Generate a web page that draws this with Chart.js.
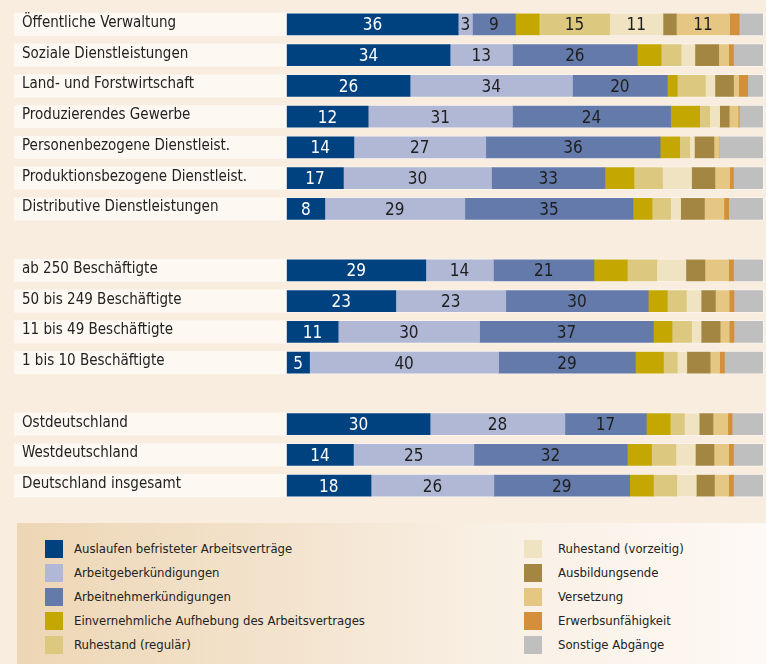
<!DOCTYPE html>
<html lang="de">
<head>
<meta charset="utf-8">
<title>Abgänge nach Art</title>
<script src="https://cdn.jsdelivr.net/npm/chart.js@4.4.1/dist/chart.umd.min.js"></script>
<style>
  html, body { margin: 0; padding: 0; }
  body {
    position: relative;
    width: 766px;
    height: 664px;
    overflow: hidden;
    background: #f9ede0;
    font-family: "DejaVu Sans Condensed", "DejaVu Sans", sans-serif;
    color: #222;
  }
  #chartBox { position: absolute; left: 0; top: 0; width: 766px; height: 510px; }
  #legend {
    position: absolute; left: 17px; top: 523px; width: 749px; height: 141px;
    background: linear-gradient(90deg, #edd6b5 0%, #f3e3cd 35%, #f9f0e5 65%, #fdf9f4 100%);
  }
  .lg-item { position: absolute; height: 18px; font-size: 13px; line-height: 18px; white-space: nowrap; }
  .lg-swatch { position: absolute; left: 0; top: 0; width: 18px; height: 18px; }
  .lg-text { position: absolute; top: 0; }
</style>
</head>
<body>
<div id="chartBox"><canvas id="chart"></canvas></div>
<div id="legend"></div>

<script>
const FONT = '"DejaVu Sans Condensed", "DejaVu Sans", sans-serif';

// rows (empty strings = gaps between the three blocks)
const rowLabels = [
  'Öffentliche Verwaltung', 'Soziale Dienstleistungen', 'Land- und Forstwirtschaft',
  'Produzierendes Gewerbe', 'Personenbezogene Dienstleist.', 'Produktionsbezogene Dienstleist.',
  'Distributive Dienstleistungen', '',
  'ab 250 Beschäftigte', '50 bis 249 Beschäftigte', '11 bis 49 Beschäftigte', '1 bis 10 Beschäftigte', '',
  'Ostdeutschland', 'Westdeutschland', 'Deutschland insgesamt'
];

// shares in % as drawn (bar widths)
const auslaufen        = [36.0, 34.3, 25.9, 17.1, 14.1, 11.9, 8.0, null, 29.2, 22.9, 10.8, 4.8, null, 30.1, 14.0, 17.7];
const arbeitgeber      = [3.0, 13.1, 34.1, 30.3, 27.7, 31.1, 29.4, null, 14.2, 23.1, 29.7, 39.7, null, 28.3, 25.3, 25.8];
const arbeitnehmer     = [9.0, 26.2, 19.9, 33.2, 36.6, 23.8, 35.3, null, 21.1, 29.9, 36.5, 28.7, null, 17.1, 32.2, 28.5];
const einvernehmlich   = [5.0, 5.0, 2.1, 6.1, 4.1, 6.1, 4.0, null, 7.0, 4.0, 3.9, 5.9, null, 5.0, 5.1, 5.0];
const ruhestandRegulaer  = [14.8, 4.2, 5.9, 2.1, 2.1, 6.0, 3.9, null, 6.2, 4.0, 4.1, 2.9, null, 3.0, 5.1, 4.9];
const ruhestandVorzeitig = [11.2, 2.9, 2.0, 2.1, 1.0, 6.1, 2.1, null, 6.1, 3.1, 2.0, 2.0, null, 3.1, 4.1, 4.1];
const ausbildungsende  = [2.8, 5.0, 3.9, 2.0, 4.1, 4.9, 5.0, null, 4.0, 3.0, 4.0, 4.9, null, 2.9, 3.9, 3.8];
const versetzung       = [11.2, 2.1, 1.1, 1.9, 1.1, 3.1, 4.1, null, 5.0, 2.9, 1.9, 2.0, null, 3.1, 3.1, 3.0];
const erwerbsunfaehig  = [2.0, 1.0, 1.9, 0.2, 0, 0.8, 1.0, null, 1.0, 1.0, 1.0, 1.0, null, 0.9, 1.0, 1.0];
const sonstige         = [5.0, 6.2, 3.2, 5.0, 9.2, 6.2, 7.2, null, 6.2, 6.1, 6.1, 8.1, null, 6.5, 6.2, 6.2];

// numbers printed inside the bars
const printedAuslaufen    = [36, 34, 26, 12, 14, 17, 8, null, 29, 23, 11, 5, null, 30, 14, 18];
const printedArbeitgeber  = [3, 13, 34, 31, 27, 30, 29, null, 14, 23, 30, 40, null, 28, 25, 26];
const printedArbeitnehmer = [9, 26, 20, 24, 36, 33, 35, null, 21, 30, 37, 29, null, 17, 32, 29];
const printedRegulaer     = [15, null, null, null, null, null, null, null, null, null, null, null, null, null, null, null];
const printedVorzeitig    = [11, null, null, null, null, null, null, null, null, null, null, null, null, null, null, null];
const printedVersetzung   = [11, null, null, null, null, null, null, null, null, null, null, null, null, null, null, null];

const seriesNames = [
  'Auslaufen befristeter Arbeitsverträge', 'Arbeitgeberkündigungen', 'Arbeitnehmerkündigungen',
  'Einvernehmliche Aufhebung des Arbeitsvertrages', 'Ruhestand (regulär)', 'Ruhestand (vorzeitig)',
  'Ausbildungsende', 'Versetzung', 'Erwerbsunfähigkeit', 'Sonstige Abgänge'
];
const seriesColors = ['#00427f', '#b0b8d5', '#647aaa', '#c4a700', '#dcc87e', '#f0e3c1', '#a38641', '#e5c682', '#d38f3a', '#bfbfbf'];
const seriesData = [auslaufen, arbeitgeber, arbeitnehmer, einvernehmlich, ruhestandRegulaer,
  ruhestandVorzeitig, ausbildungsende, versetzung, erwerbsunfaehig, sonstige];
const seriesPrinted = [printedAuslaufen, printedArbeitgeber, printedArbeitnehmer, null, printedRegulaer,
  printedVorzeitig, null, printedVersetzung, null, null];

// light band behind every row (label + bar)
const rowBands = {
  id: 'rowBands',
  beforeDraw(chart) {
    const { ctx, chartArea } = chart;
    const y = chart.scales.y;
    ctx.save();
    ctx.fillStyle = '#fdf8f2';
    chart.data.labels.forEach((lab, i) => {
      if (!lab) return;
      const py = y.getPixelForValue(i);
      ctx.fillRect(14, py - 11.5, chartArea.right + 1 - 14, 23);
    });
    ctx.restore();
  }
};

// numbers inside the segments
const valueLabels = {
  id: 'valueLabels',
  afterDatasetsDraw(chart) {
    const ctx = chart.ctx;
    ctx.save();
    ctx.font = '17px ' + FONT;
    ctx.textAlign = 'center';
    ctx.textBaseline = 'middle';
    chart.data.datasets.forEach((ds, d) => {
      if (!ds.printed) return;
      chart.getDatasetMeta(d).data.forEach((bar, i) => {
        const txt = ds.printed[i];
        if (txt == null) return;
        ctx.fillStyle = d === 0 ? '#ffffff' : '#1e1e1e';
        ctx.fillText(String(txt), (bar.x + bar.base) / 2, bar.y + 1.5);
      });
    });
    ctx.restore();
  }
};

const chart = new Chart(document.getElementById('chart'), {
  type: 'bar',
  data: {
    labels: rowLabels,
    datasets: seriesNames.map((name, k) => ({
      label: name,
      data: seriesData[k],
      printed: seriesPrinted[k],
      backgroundColor: seriesColors[k],
      borderWidth: 0,
      barThickness: 21,
      categoryPercentage: 1
    }))
  },
  options: {
    indexAxis: 'y',
    responsive: true,
    maintainAspectRatio: false,
    animation: false,
    layout: { padding: { left: 22, right: 3, top: 9, bottom: 9 } },
    plugins: { legend: { display: false }, tooltip: { enabled: false } },
    scales: {
      x: { stacked: true, min: 0, max: 100, display: false },
      y: {
        stacked: true,
        grid: { display: false },
        border: { display: false },
        afterFit(scale) { scale.width = 264.7; },
        ticks: {
          crossAlign: 'far',
          padding: 0,
          labelOffset: -1.5,
          color: '#222',
          font: { family: FONT, size: 15 }
        }
      }
    }
  },
  plugins: [rowBands, valueLabels]
});

// legend in two columns, five entries each
const legend = document.getElementById('legend');
chart.data.datasets.forEach((ds, i) => {
  const col = i < 5 ? 0 : 1;
  const item = document.createElement('div');
  item.className = 'lg-item';
  item.style.left = (col ? 507 : 28) + 'px';
  item.style.top = (17 + (i % 5) * 24) + 'px';
  item.innerHTML = `<span class="lg-swatch" style="background:${ds.backgroundColor}"></span>` +
    `<span class="lg-text" style="left:${col ? 34 : 29}px">${ds.label}</span>`;
  legend.appendChild(item);
});
</script>
</body>
</html>
